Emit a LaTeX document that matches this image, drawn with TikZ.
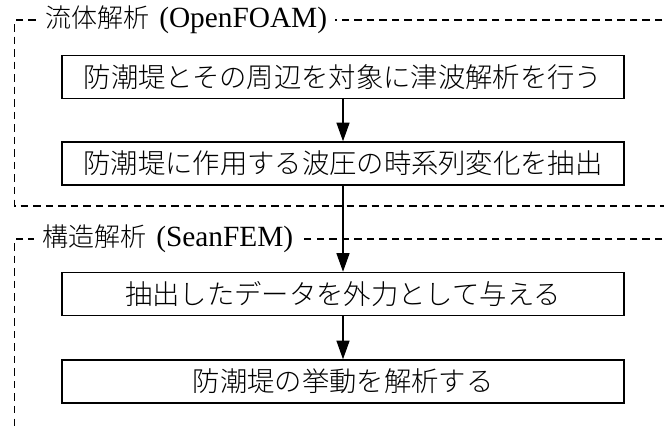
\documentclass[tikz,border=0pt]{standalone}
\usepackage{fontspec}
\setmainfont{Liberation Serif}
\newfontfamily\jp{Noto Sans CJK JP}[UprightFont=* Light]
\usetikzlibrary{arrows.meta}
\tikzset{
  stepbox/.style={draw, line width=1.1pt, minimum width=562*0.75pt, minimum height=43*0.75pt, inner sep=0pt, font=\jp\fontsize{20.5pt}{24pt}\selectfont},
  frame/.style={draw, line width=0.9pt, dash pattern=on 5.6pt off 3.8pt},
  title/.style={fill=white, inner xsep=6pt, inner ysep=1pt, font=\fontsize{22pt}{26pt}\selectfont, anchor=west},
  flow/.style={draw, line width=1.1pt, -{Triangle[width=9.75pt,length=14pt]}}
}
\newcommand{\jt}[1]{{\jp\fontsize{19.5pt}{22pt}\selectfont #1}\hspace{2pt}}
\begin{document}
\begin{tikzpicture}[x=0.75pt,y=-0.75pt]
\useasboundingbox (0,0) rectangle (664,425);
\clip (0,0) rectangle (664,425);
\fill[white] (0,0) rectangle (664,425);
% frames
\draw[frame] (700,20) -- (14.7,20) -- (14.7,206) -- (700,206);
\draw[frame] (700,239) -- (14.7,239) -- (14.7,500);
\node[title] (t1) at (37,20) {\jt{流体解析} (OpenFOAM)\hspace{9pt}};
\node[title] (t2) at (34,239) {\jt{構造解析} (SeanFEM)\hspace{4pt}};
% boxes
\node[stepbox] (b1) at (343,77) {防潮堤とその周辺を対象に津波解析を行う};
\node[stepbox] (b2) at (343,163.5) {防潮堤に作用する波圧の時系列変化を抽出};
\node[stepbox] (b3) at (343,294) {抽出したデータを外力として与える};
\node[stepbox] (b4) at (343,381.5) {防潮堤の挙動を解析する};
% arrows
\draw[flow] (b1) -- (b2);
\draw[flow] (b2) -- (b3);
\draw[flow] (b3) -- (b4);
\end{tikzpicture}
\end{document}
